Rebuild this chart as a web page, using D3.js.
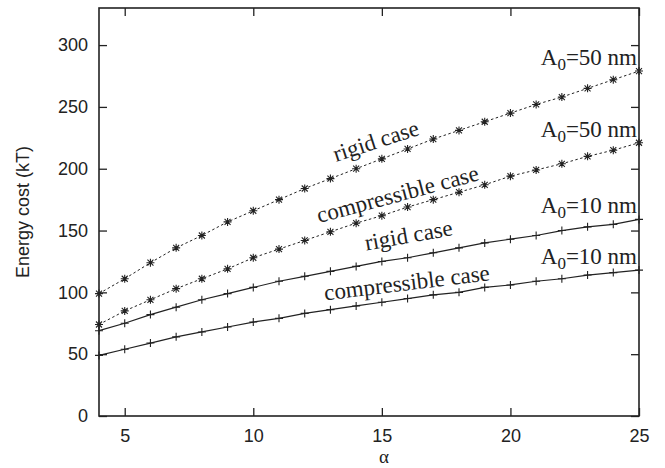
<!DOCTYPE html>
<html>
<head>
<meta charset="utf-8">
<script src="https://d3js.org/d3.v7.min.js"></script>
<style>
body { margin: 0; background: #fff; }
svg { display: block; }
.axis text { font-family: "Liberation Sans", Arial, sans-serif; font-size: 18px; fill: #222; }
.axis line { stroke: #222; stroke-width: 1.3; }
.lbl { font-family: "Liberation Serif", "Times New Roman", serif; font-size: 23px; fill: #222; }
</style>
</head>
<body>
<svg width="665" height="468"></svg>
<script>
// alpha values
var alphas = [4,5,6,7,8,9,10,11,12,13,14,15,16,17,18,19,20,21,22,23,24,25];

// energy cost (kT)
var rigid50 = [99,111,124,136,146,157,166,175,184,192,200,208,216,224,231,238,245,252,258,265,272,279];
var comp50 = [74,85,94,103,111,119,128,135,142,149,156,162,169,175,181,187,194,199,204,210,215,221];
var rigid10 = [69,75,82,88,94,99,104,109,113,117,121,125,128,132,136,140,143,146,150,153,155,159];
var comp10 = [49,54,59,64,68,72,76,79,83,86,89,92,95,98,100,104,106,109,111,114,116,118];

var xTicks = [5,10,15,20,25];
var yTicks = [0,50,100,150,200,250,300];

var seriesNames = ["rigid50","comp50","rigid10","comp10"];
var seriesData = [rigid50, comp50, rigid10, comp10];
var endLabels = ["50","50","10","10"];
var caseLabels = ["rigid case","compressible case","rigid case","compressible case"];

var svg = d3.select("svg"),
	margin = {top: 8, right: 26, bottom: 52, left: 99},
	width = +svg.attr("width") - margin.left - margin.right,
	height = +svg.attr("height") - margin.top - margin.bottom;

var x = d3.scaleLinear().domain([4,25]).range([0,width]),
	y = d3.scaleLinear().domain([0,330]).range([height,0]);

var g = svg.append("g")
	.attr("transform", "translate("+margin.left+","+margin.top+")");

// axes, ticks pointing inward on all four sides
g.append("g")
	.attr("class", "axis")
	.attr("transform", "translate(0,"+height+")")
	.call(d3.axisBottom(x).tickValues(xTicks).tickSize(-8).tickPadding(13));
g.append("g")
	.attr("class", "axis")
	.call(d3.axisTop(x).tickValues(xTicks).tickSize(-8).tickFormat(""));
g.append("g")
	.attr("class", "axis")
	.call(d3.axisLeft(y).tickValues(yTicks).tickSize(-8).tickPadding(11));
g.append("g")
	.attr("class", "axis")
	.attr("transform", "translate("+width+",0)")
	.call(d3.axisRight(y).tickValues(yTicks).tickSize(-8).tickFormat(""));
g.selectAll(".axis .domain").remove();

g.append("rect")
	.attr("width", width)
	.attr("height", height)
	.attr("fill", "none")
	.attr("stroke", "#222")
	.attr("stroke-width", 1.6);

var line = d3.line()
	.x(function(d, i){ return x(alphas[i]); })
	.y(function(d){ return y(d); });

seriesData.forEach(function(vals, k) {
	var dotted = k < 2;
	g.append("path")
		.datum(vals)
		.attr("fill", "none")
		.attr("stroke", "#222")
		.attr("stroke-width", dotted ? 1 : 1.2)
		.attr("stroke-dasharray", dotted ? "2.5,2.5" : null)
		.attr("d", line);

	var s = 4;
	var sym = dotted
		? "M"+(-s)+",0H"+s+"M0,"+(-s)+"V"+s+"M-3,-3L3,3M-3,3L3,-3"
		: "M"+(-s)+",0H"+s+"M0,"+(-s)+"V"+s;
	g.selectAll(".m"+k)
		.data(vals)
		.enter()
		.append("path")
		.attr("class", "m"+k)
		.attr("transform", function(d, i){ return "translate("+x(alphas[i])+","+y(d)+")"; })
		.attr("d", sym)
		.attr("fill", "none")
		.attr("stroke", "#222")
		.attr("stroke-width", 1.1);

	// A0 label at the end of the curve
	var last = vals[vals.length-1];
	var t = g.append("text")
		.attr("class", "lbl")
		.attr("text-anchor", "end")
		.attr("x", width - 2)
		.attr("y", y(last) - 6);
	t.append("tspan").text("A");
	t.append("tspan").attr("font-size", "17px").attr("dy", 5).text("0");
	t.append("tspan").attr("dy", -5).text("=" + endLabels[k] + " nm");
});

// case labels along the curves: start alpha, px above curve, rotation
var casePos = [[13.22, 14.5, -18], [12.56, 12.5, -15], [14.39, 14, -10], [12.79, 10, -7]];

function valueAt(vals, a) {
	var i = Math.floor(a) - alphas[0],
		f = a - Math.floor(a);
	return vals[i] + f * (vals[i+1] - vals[i]);
}

seriesData.forEach(function(vals, k) {
	var p = casePos[k],
		px = x(p[0]),
		py = y(valueAt(vals, p[0])) - p[1];
	g.append("text")
		.attr("class", "lbl")
		.attr("transform", "translate("+px+","+py+") rotate("+p[2]+")")
		.text(caseLabels[k]);
});

// axis titles
svg.append("text")
	.attr("transform", "translate(29,212) rotate(-90)")
	.attr("text-anchor", "middle")
	.style("font-family", "Liberation Sans, Arial, sans-serif")
	.style("font-size", "18px")
	.attr("fill", "#222")
	.text("Energy cost (kT)");

svg.append("text")
	.attr("x", 384)
	.attr("y", 463)
	.attr("text-anchor", "middle")
	.style("font-family", "Liberation Serif, Times New Roman, serif")
	.style("font-size", "19px")
	.attr("fill", "#222")
	.text("α");
</script>
</body>
</html>
